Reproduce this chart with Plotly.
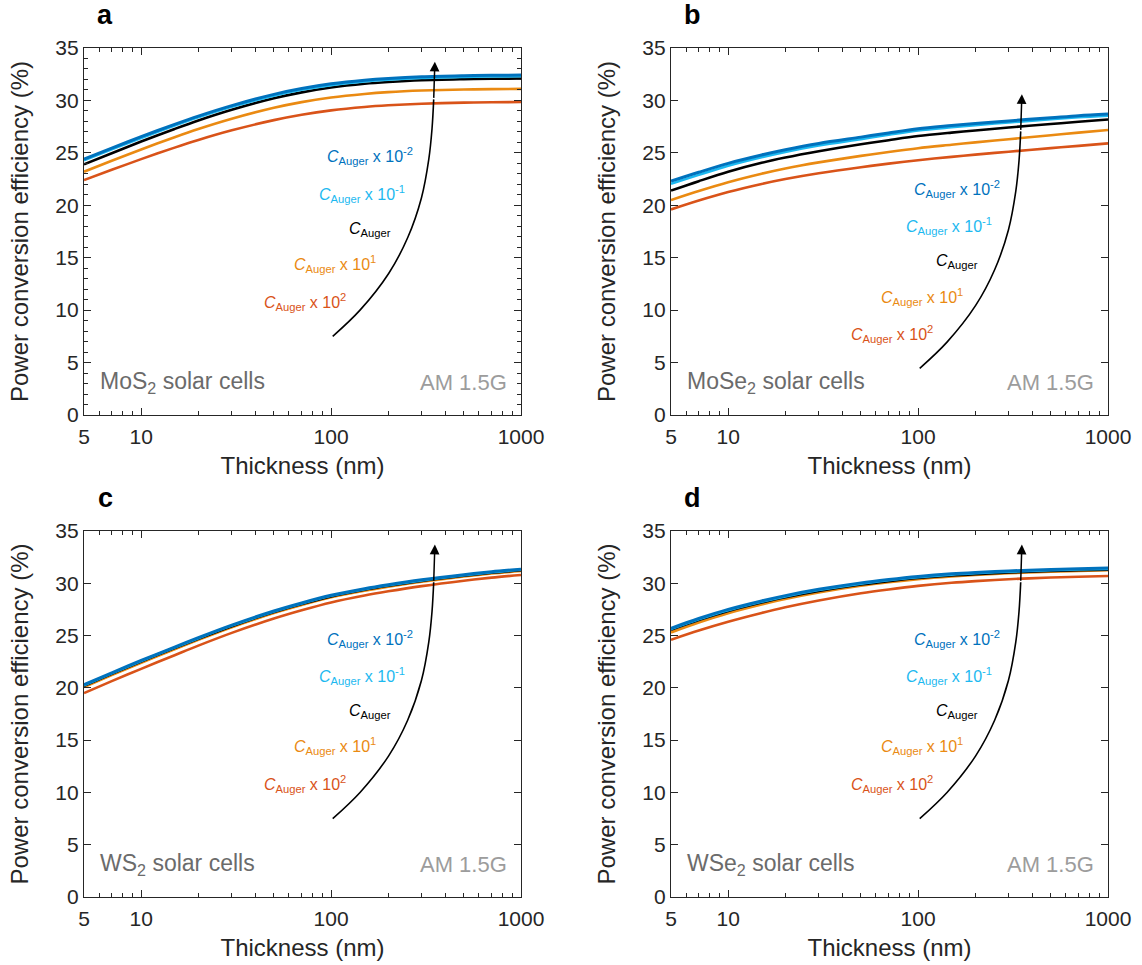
import numpy as np
import plotly.graph_objects as go

# ---------------- data ----------------
thickness = [5, 7, 10, 15, 20, 30, 50, 70, 100, 150, 200, 300, 500, 700, 1000]

series_labels = ["C_Auger x 1e-2", "C_Auger x 1e-1", "C_Auger", "C_Auger x 1e1", "C_Auger x 1e2"]

mos2_em2 = [24.4, 25.45, 26.54, 27.72, 28.51, 29.51, 30.58, 31.13, 31.58, 31.93, 32.1, 32.26, 32.36, 32.4, 32.42]
mos2_em1 = [24.28, 25.33, 26.42, 27.6, 28.39, 29.39, 30.46, 31.01, 31.46, 31.81, 31.98, 32.14, 32.24, 32.28, 32.3]
mos2_e0 = [23.9, 24.97, 26.08, 27.28, 28.09, 29.11, 30.2, 30.77, 31.23, 31.59, 31.76, 31.93, 32.03, 32.07, 32.09]
mos2_e1 = [23.2, 24.24, 25.32, 26.49, 27.27, 28.25, 29.3, 29.84, 30.28, 30.62, 30.79, 30.94, 31.04, 31.08, 31.1]
mos2_e2 = [22.4, 23.38, 24.4, 25.5, 26.23, 27.15, 28.12, 28.63, 29.05, 29.38, 29.54, 29.69, 29.79, 29.83, 29.85]

mose2_em2 = [22.3, 23.15, 24.0, 24.8, 25.3, 25.9, 26.5, 26.9, 27.3, 27.6, 27.8, 28.05, 28.35, 28.55, 28.7]
mose2_em1 = [22.05, 22.9, 23.77, 24.58, 25.09, 25.7, 26.31, 26.72, 27.13, 27.44, 27.64, 27.9, 28.2, 28.4, 28.55]
mose2_e0 = [21.4, 22.3, 23.2, 24.05, 24.55, 25.15, 25.82, 26.21, 26.6, 26.93, 27.14, 27.42, 27.75, 27.96, 28.18]
mose2_e1 = [20.5, 21.36, 22.2, 23.01, 23.51, 24.09, 24.71, 25.08, 25.44, 25.77, 26.0, 26.3, 26.68, 26.93, 27.18]
mose2_e2 = [19.6, 20.45, 21.26, 22.03, 22.5, 23.05, 23.63, 23.97, 24.3, 24.62, 24.83, 25.11, 25.45, 25.67, 25.9]

ws2_em2 = [20.3, 21.44, 22.62, 23.9, 24.8, 26.0, 27.35, 28.12, 28.85, 29.48, 29.86, 30.33, 30.82, 31.1, 31.35]
ws2_em1 = [20.25, 21.39, 22.57, 23.85, 24.75, 25.95, 27.3, 28.07, 28.8, 29.43, 29.81, 30.28, 30.77, 31.05, 31.3]
ws2_e0 = [20.2, 21.34, 22.52, 23.8, 24.7, 25.9, 27.25, 28.02, 28.75, 29.38, 29.76, 30.23, 30.72, 31.0, 31.25]
ws2_e1 = [20.08, 21.22, 22.4, 23.69, 24.59, 25.8, 27.15, 27.92, 28.66, 29.29, 29.68, 30.15, 30.65, 30.93, 31.18]
ws2_e2 = [19.5, 20.64, 21.82, 23.12, 24.04, 25.26, 26.63, 27.42, 28.17, 28.83, 29.23, 29.73, 30.25, 30.54, 30.8]

wse2_em2 = [25.7, 26.63, 27.5, 28.31, 28.82, 29.42, 30.04, 30.36, 30.65, 30.9, 31.03, 31.18, 31.32, 31.39, 31.45]
wse2_em1 = [25.63, 26.56, 27.43, 28.24, 28.75, 29.35, 29.97, 30.29, 30.58, 30.83, 30.96, 31.11, 31.25, 31.32, 31.38]
wse2_e0 = [25.55, 26.48, 27.35, 28.16, 28.67, 29.27, 29.89, 30.21, 30.5, 30.75, 30.88, 31.03, 31.17, 31.24, 31.3]
wse2_e1 = [25.3, 26.25, 27.14, 27.97, 28.5, 29.12, 29.76, 30.1, 30.4, 30.66, 30.8, 30.96, 31.11, 31.19, 31.25]
wse2_e2 = [24.6, 25.48, 26.32, 27.16, 27.7, 28.35, 29.04, 29.41, 29.75, 30.05, 30.21, 30.39, 30.55, 30.63, 30.7]

# arrow guide curves (thickness, efficiency) and arrow tips
arrow_acd_x = [102, 142, 201, 253, 299, 327, 340, 347]
arrow_acd_y = [7.5, 10.0, 13.5, 16.9, 20.7, 24.4, 27.3, 30.1]
arrow_acd_tip = (352, 33.7)
arrow_b_x = [102, 142, 201, 253, 299, 327, 340, 347]
arrow_b_y = [4.45, 6.95, 10.45, 13.85, 17.65, 21.35, 24.25, 27.05]
arrow_b_tip = (352, 30.6)

x_tick_vals = [5, 10, 100, 1000]
x_tick_text = ["5", "10", "100", "1000"]
x_minor_vals = [6, 7, 8, 9, 20, 30, 40, 50, 60, 70, 80, 90, 200, 300, 400, 500, 600, 700, 800, 900]
y_tick_vals = [0, 5, 10, 15, 20, 25, 30, 35]

label_texts = [
    "<i>C</i><sub>Auger</sub> x 10<sup>-2</sup>",
    "<i>C</i><sub>Auger</sub> x 10<sup>-1</sup>",
    "<i>C</i><sub>Auger</sub>",
    "<i>C</i><sub>Auger</sub> x 10<sup>1</sup>",
    "<i>C</i><sub>Auger</sub> x 10<sup>2</sup>",
]

# ---------------- styles / layout ----------------
W, H = 1142, 965
FONT = "Liberation Sans, Arial, Helvetica, sans-serif"
AX = "#262626"
colors = ["#0072BD", "#1DB9F0", "#000000", "#EA8A12", "#D95319"]
widths = [3.0, 2.6, 2.6, 2.6, 2.6]

label_logx = [2.205, 2.162, 2.205, 2.023, 1.863]
label_y_acd = [24.7, 21.1, 17.7, 14.4, 10.8]

panels = [
    dict(letter="a", name="MoS<sub>2</sub> solar cells", series=[mos2_em2, mos2_em1, mos2_e0, mos2_e1, mos2_e2],
         px=(84, 521), py=(48, 415), arrow=(arrow_acd_x, arrow_acd_y), tip=arrow_acd_tip, lab_dy=0.0, yminor=True),
    dict(letter="b", name="MoSe<sub>2</sub> solar cells", series=[mose2_em2, mose2_em1, mose2_e0, mose2_e1, mose2_e2],
         px=(671, 1108), py=(48, 415), arrow=(arrow_b_x, arrow_b_y), tip=arrow_b_tip, lab_dy=-3.1, yminor=False),
    dict(letter="c", name="WS<sub>2</sub> solar cells", series=[ws2_em2, ws2_em1, ws2_e0, ws2_e1, ws2_e2],
         px=(84, 521), py=(531, 897), arrow=(arrow_acd_x, arrow_acd_y), tip=arrow_acd_tip, lab_dy=0.0, yminor=False),
    dict(letter="d", name="WSe<sub>2</sub> solar cells", series=[wse2_em2, wse2_em1, wse2_e0, wse2_e1, wse2_e2],
         px=(671, 1108), py=(531, 897), arrow=(arrow_acd_x, arrow_acd_y), tip=arrow_acd_tip, lab_dy=0.0, yminor=False),
]

fig = go.Figure()
annotations = []
layout_axes = {}

for i, p in enumerate(panels):
    n = "" if i == 0 else str(i + 1)
    xr, yr = "x" + n, "y" + n
    for k in reversed(range(5)):
        fig.add_trace(go.Scatter(x=thickness, y=p["series"][k], mode="lines", name=series_labels[k],
                                 line=dict(color=colors[k], width=widths[k], shape="spline", smoothing=0.9),
                                 xaxis=xr, yaxis=yr, showlegend=False, hoverinfo="skip"))
    ax_x, ax_y = p["arrow"]
    fig.add_trace(go.Scatter(x=ax_x, y=ax_y, mode="lines",
                             line=dict(color="black", width=1.6, shape="spline", smoothing=1.0),
                             xaxis=xr, yaxis=yr, showlegend=False, hoverinfo="skip"))
    tx, ty = p["tip"]
    annotations.append(dict(x=np.log10(tx), y=ty, ax=np.log10(ax_x[-1]), ay=ax_y[-1],
                            xref=xr, yref=yr, axref=xr, ayref=yr, text="", showarrow=True,
                            arrowhead=2, arrowsize=1.3, arrowwidth=1.5, arrowcolor="black", standoff=0))
    for k in range(5):
        annotations.append(dict(x=label_logx[k], y=label_y_acd[k] + p["lab_dy"], xref=xr, yref=yr,
                                text=label_texts[k], showarrow=False, xanchor="center", yanchor="middle",
                                font=dict(family=FONT, size=16, color=colors[k])))
    annotations.append(dict(x=14 / 437, y=3.1, xref=xr + " domain", yref=yr, text=p["name"], showarrow=False,
                            xanchor="left", yanchor="middle", font=dict(family=FONT, size=23, color="#6b6b6b")))
    annotations.append(dict(x=1 - 12 / 437, y=3.1, xref=xr + " domain", yref=yr, text="AM 1.5G", showarrow=False,
                            xanchor="right", yanchor="middle", font=dict(family=FONT, size=22, color="#9c9c9c")))
    annotations.append(dict(x=(p["px"][0] + 21) / W, y=1 - (p["py"][0] - 33) / H, xref="paper", yref="paper",
                            text="<b>" + p["letter"] + "</b>", showarrow=False, xanchor="center", yanchor="middle",
                            font=dict(family=FONT, size=27, color="black")))

    layout_axes["xaxis" + n] = dict(
        type="log", range=[np.log10(5), 3], domain=[p["px"][0] / W, p["px"][1] / W], anchor=yr,
        automargin=False,
        tickmode="array", tickvals=x_tick_vals, ticktext=x_tick_text,
        ticks="inside", ticklen=7, tickwidth=1.2, tickcolor=AX,
        showline=True, linecolor=AX, linewidth=1.4, mirror="ticks",
        showgrid=False, zeroline=False, ticklabelstandoff=3,
        minor=dict(tickmode="array", tickvals=x_minor_vals, ticks="inside", ticklen=4, tickwidth=1.0,
                   tickcolor=AX, showgrid=False),
        tickfont=dict(family=FONT, size=21, color=AX),
        title=dict(text="Thickness (nm)", font=dict(family=FONT, size=24, color=AX), standoff=9),
    )
    yminor = dict(dtick=1, tick0=0, ticks="inside", ticklen=4, tickwidth=1.0, tickcolor=AX, showgrid=False) \
        if p["yminor"] else dict(ticks="")
    layout_axes["yaxis" + n] = dict(
        range=[0, 35], domain=[1 - p["py"][1] / H, 1 - p["py"][0] / H], anchor=xr,
        automargin=False,
        tickmode="array", tickvals=y_tick_vals,
        ticks="inside", ticklen=7, tickwidth=1.2, tickcolor=AX,
        showline=True, linecolor=AX, linewidth=1.4, mirror="ticks",
        showgrid=False, zeroline=False, minor=yminor,
        tickfont=dict(family=FONT, size=21, color=AX),
        title=dict(text="Power conversion efficiency (%)", font=dict(family=FONT, size=24, color=AX), standoff=19),
    )

fig.update_layout(
    width=W, height=H, margin=dict(l=0, r=0, t=0, b=0),
    paper_bgcolor="white", plot_bgcolor="white",
    annotations=annotations, showlegend=False,
    **layout_axes,
)

fig.write_html("out.html")
